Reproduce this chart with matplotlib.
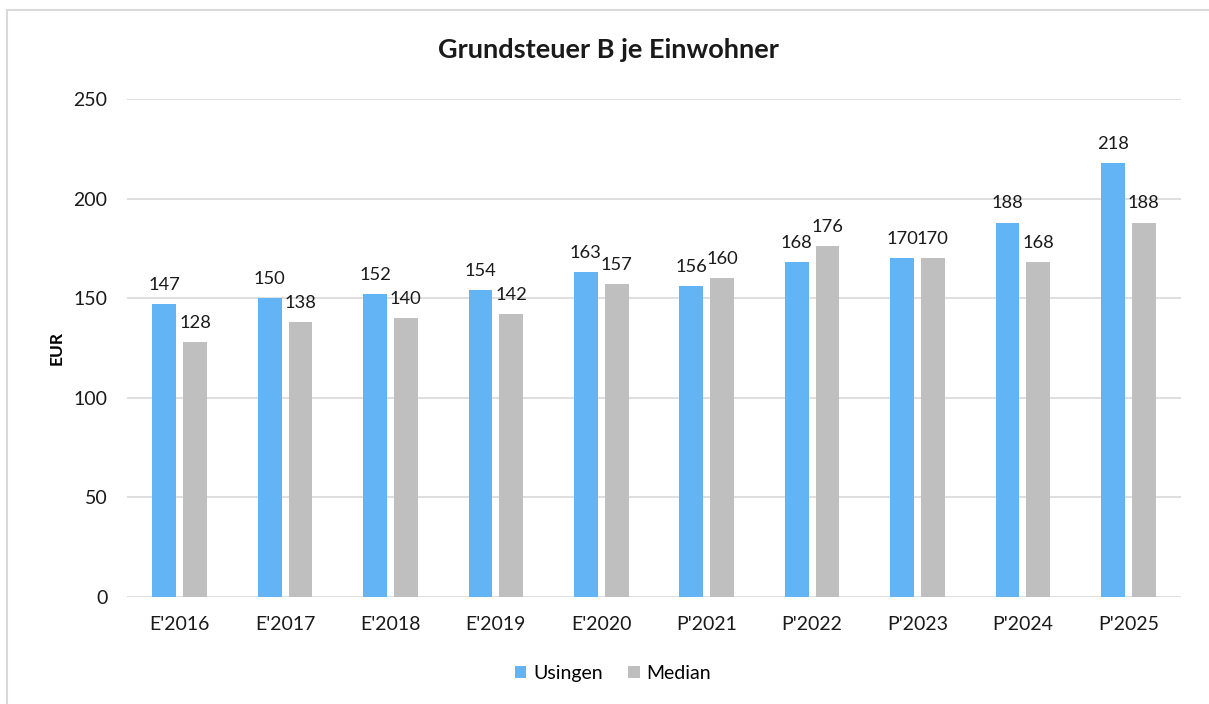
import numpy as np
import matplotlib.pyplot as plt
from matplotlib.lines import Line2D

plt.rcParams['font.family'] = ['Lato', 'DejaVu Sans']

categories = ["E'2016", "E'2017", "E'2018", "E'2019", "E'2020",
              "P'2021", "P'2022", "P'2023", "P'2024", "P'2025"]
usingen = [147, 150, 152, 154, 163, 156, 168, 170, 188, 218]
median = [128, 138, 140, 142, 157, 160, 176, 170, 168, 188]

blue = '#63B4F4'
grey = '#BFBFBF'

fig = plt.figure(figsize=(12.09, 7.04), dpi=100)
ax = fig.add_axes([127 / 1209, 1 - 597 / 704, 1054 / 1209, 498 / 704])

x = np.arange(len(categories))
w = 0.225
off = 0.146
b1 = ax.bar(x - off, usingen, w, color=blue, label='Usingen', zorder=2)
b2 = ax.bar(x + off, median, w, color=grey, label='Median', zorder=2)
ax.bar_label(b1, padding=8, fontsize=13.2, color='#1a1a1a')
ax.bar_label(b2, padding=8, fontsize=13.2, color='#1a1a1a')

ax.set_xlim(-0.5, len(categories) - 0.5)
ax.set_ylim(0, 250)
ax.set_yticks(range(0, 251, 50))
ax.set_xticks(x)
ax.set_xticklabels(categories)
ax.tick_params(length=0, labelsize=14, colors='#1a1a1a')
ax.tick_params(axis='x', pad=14)
ax.tick_params(axis='y', pad=14)
ax.grid(axis='y', color='#D9D9D9', linewidth=1.2, zorder=0)
for s in ax.spines.values():
    s.set_visible(False)

ax.set_ylabel('EUR', fontsize=12.5, fontweight='bold')
ax.yaxis.set_label_coords(-0.059, 0.5)
fig.text(608 / 1209, 1 - 50 / 704, 'Grundsteuer B je Einwohner', ha='center', va='center',
         fontsize=19.5, fontweight='bold', color='#1a1a1a')

ax.legend(loc='center', bbox_to_anchor=(0.461, -0.153), ncol=2, frameon=False,
          fontsize=14, handlelength=0.6, handleheight=0.6, handletextpad=0.35,
          columnspacing=1.3)

# outer chart border (left and top visible)
fig.add_artist(Line2D([7 / 1209, 7 / 1209], [0, 1 - 10 / 704], transform=fig.transFigure,
                      color='#D9D9D9', linewidth=1.5))
fig.add_artist(Line2D([7 / 1209, 1], [1 - 10 / 704, 1 - 10 / 704], transform=fig.transFigure,
                      color='#D9D9D9', linewidth=1.5))

fig.savefig('out.png', dpi=100)
